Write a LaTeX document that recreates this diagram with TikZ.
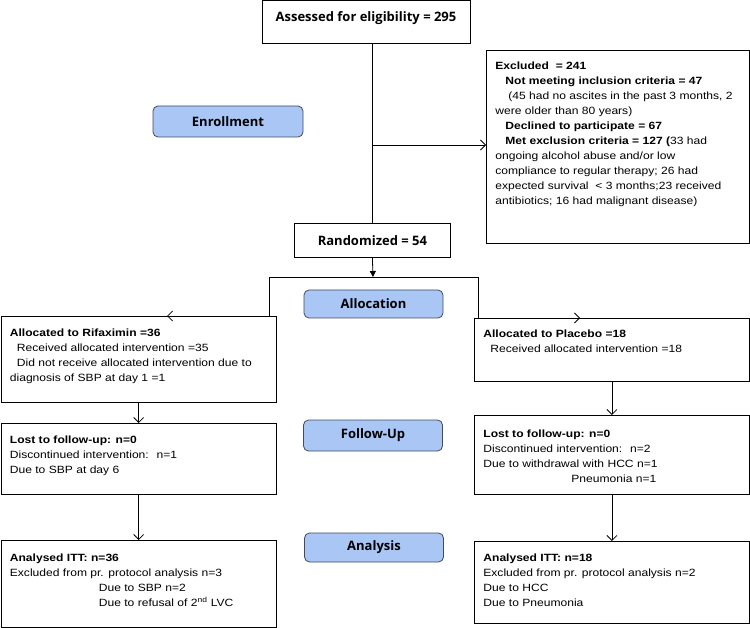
\documentclass[tikz,border=0pt]{standalone}
\usepackage{fontspec}
\setmainfont{Liberation Sans}[FakeStretch=1.15]
\newfontfamily\headfont{Open Sans}
\usetikzlibrary{positioning,arrows.meta}
\definecolor{pillblue}{HTML}{A9C6F5}
\definecolor{pillline}{HTML}{404B5F}
\tikzset{
  box/.style={draw, line width=0.8pt, inner sep=0pt, anchor=north west},
  pill/.style={draw=pillline, fill=pillblue, rounded corners=5pt, line width=0.8pt,
    minimum width=139pt, minimum height=30pt, font=\headfont\bfseries\fontsize{13}{15}\selectfont},
  head/.style={inner sep=0pt, font=\headfont\bfseries\fontsize{13}{15}\selectfont},
  txt/.style={align=left, inner sep=0pt, font=\fontsize{10.5}{15}\selectfont},
  arr/.style={-{Straight Barb[length=5pt,width=10pt,line width=0.8pt]}},
}
\begin{document}
\begin{tikzpicture}[x=1pt, y=-1pt, line width=0.8pt]
\useasboundingbox (0,0) rectangle (750,628);
% boxes
\node[box, minimum width=208pt, minimum height=42.5pt] (assess) at (262,0.5) {};
\node[box, minimum width=263pt, minimum height=193pt] (excl) at (486,50) {};
\node[box, minimum width=156pt, minimum height=34pt] (rand) at (294,223) {};
\node[box, minimum width=275.5pt, minimum height=86pt] (rif) at (0.5,316) {};
\node[box, minimum width=275pt, minimum height=63pt] (plac) at (474,318) {};
\node[box, minimum width=275.5pt, minimum height=71pt] (lostL) at (0.5,423) {};
\node[box, minimum width=275pt, minimum height=79pt] (lostR) at (474,415) {};
\node[box, minimum width=275.5pt, minimum height=87pt] (anaL) at (0.5,540) {};
\node[box, minimum width=275pt, minimum height=82pt] (anaR) at (474,541) {};
% stage labels
\node[pill, minimum width=150pt, minimum height=31pt] (enroll) at (228,121.5) {Enrollment};
\node[pill, minimum height=28pt] (alloc) at (373.5,304) {Allocation};
\node[pill, minimum height=31pt] (follow) at (373,435.5) {Follow-Up};
\node[pill, minimum height=29pt] (analysis) at (374,547.5) {Analysis};
% texts
\node[head] (assess-t) at (366,18) {Assessed for eligibility = 295};
\node[head] (rand-t) at (rand) {Randomized = 54};
\node[txt, below right=11pt and 9pt of excl.north west] (excl-t) {%
\textbf{Excluded \ = 241}\\
\hspace*{10pt}\textbf{Not meeting inclusion criteria = 47}\\
\hspace*{13pt}(45 had no ascites in the past 3 months, 2\\
were older than 80 years)\\
\hspace*{10pt}\textbf{Declined to participate = 67}\\
\hspace*{10pt}\textbf{Met exclusion criteria = 127 (}33 had\\
ongoing alcohol abuse and/or low\\
compliance to regular therapy; 26 had\\
expected survival \ < 3 months;23 received\\
antibiotics; 16 had malignant disease)};
\node[txt, below right=12pt and 9pt of rif.north west] (rif-t) {%
\textbf{Allocated to Rifaximin =36}\\
\hspace*{7pt}Received allocated intervention =35\\
\hspace*{7pt}Did not receive allocated intervention due to\\
diagnosis of SBP at day 1 =1};
\node[txt, below right=11pt and 9pt of plac.north west] (plac-t) {%
\textbf{Allocated to Placebo =18}\\
\hspace*{7pt}Received allocated intervention =18};
\node[txt, below right=12pt and 9pt of lostL.north west] (lostL-t) {%
\textbf{Lost to follow-up: n=0}\\
Discontinued intervention: \ n=1\\
Due to SBP at day 6};
\node[txt, below right=14pt and 9pt of lostR.north west] (lostR-t) {%
\textbf{Lost to follow-up: n=0}\\
Discontinued intervention: \ n=2\\
Due to withdrawal with HCC n=1\\
\hspace*{88pt}Pneumonia n=1};
\node[txt, below right=13pt and 9pt of anaL.north west] (anaL-t) {%
\textbf{Analysed ITT: n=36}\\
Excluded from pr. protocol analysis n=3\\
\hspace*{89pt}Due to SBP n=2\\
\hspace*{89pt}Due to refusal of 2\textsuperscript{nd} LVC};
\node[txt, below right=12pt and 9pt of anaR.north west] (anaR-t) {%
\textbf{Analysed ITT: n=18}\\
Excluded from pr. protocol analysis n=2\\
Due to HCC\\
Due to Pneumonia};
% connectors
\coordinate (split) at (373,145);
\coordinate (fork) at (373,277);
\coordinate (forkL) at (269,277);
\coordinate (forkR) at (478,277);
\coordinate (rifTip) at (167,316);
\coordinate (placTip) at (580,318);
\draw (rand.north |- assess.south) -- (rand.north);
\draw[arr] (split) -- (split -| excl.west);
\draw[-{Triangle[length=6pt,width=6pt]}] (rand.south) -- (fork);
\draw (forkL) -- (forkR);
\draw[arr] (forkL) -- (forkL |- rif.north) -- (rifTip);
\draw[arr] (forkR) -- (forkR |- plac.north) -- (placTip);
\draw[arr] (rif.south) -- (lostL.north);
\draw[arr] (lostL.south) -- (anaL.north);
\draw[arr] (plac.south) -- (lostR.north);
\draw[arr] (lostR.south) -- (anaR.north);
\end{tikzpicture}
\end{document}
